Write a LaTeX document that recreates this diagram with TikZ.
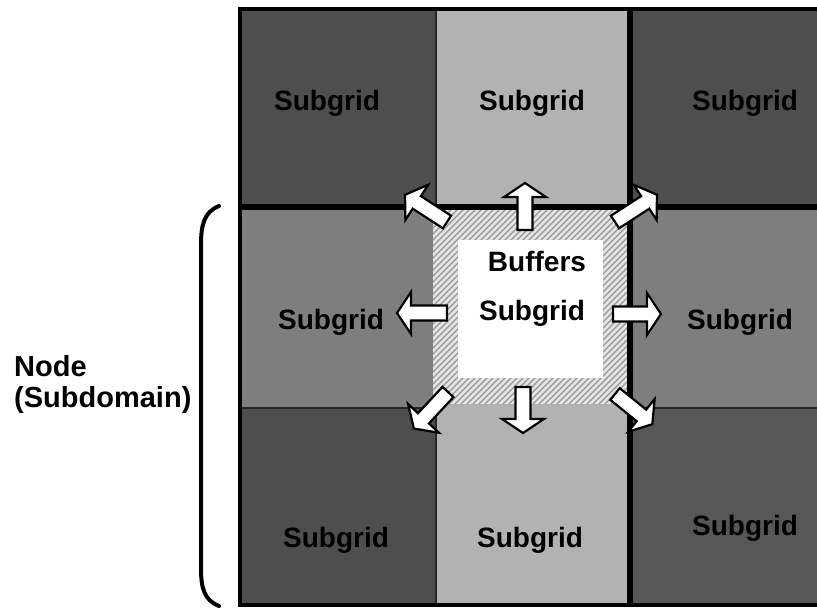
\documentclass[tikz,border=0pt]{standalone}
\usepackage{fontspec}
\setmainfont{Liberation Sans}
\definecolor{darkcell}{RGB}{78,78,78}
\definecolor{midcell}{RGB}{126,126,126}
\definecolor{lightcell}{RGB}{178,178,178}
\definecolor{hatchbg}{RGB}{228,228,228}
\definecolor{hatchfg}{RGB}{150,150,150}
\tikzset{
  lbl/.style={font=\bfseries\fontsize{28}{32}\selectfont, text=black, inner sep=0pt},
  arrowbox/.style={draw=black, fill=white, line width=2.2pt, line join=miter},
  thinline/.style={draw=black!85, line width=1.5pt},
  thickline/.style={draw=black, line width=6.5pt},
  hatchline/.style={draw=hatchfg, line width=1.3pt},
}
\newcommand\blkarrow[4]{%
  \begin{scope}[shift={(#1,#2)},rotate=#3]
    \draw[arrowbox] (0,-7.5) -- ({#4-14},-7.5) -- ({#4-14},-21) -- (#4,0) -- ({#4-14},21) -- ({#4-14},7.5) -- (0,7.5) -- cycle;
  \end{scope}}
\begin{document}
\begin{tikzpicture}[x=1pt,y=-1pt]
\useasboundingbox (0,0) rectangle (817,608);
% cells
\fill[darkcell]  (240,9) rectangle (436,207);
\fill[lightcell] (436,9) rectangle (630,207);
\fill[darkcell]  (630,9) rectangle (822,207);
\fill[midcell]   (240,207) rectangle (436,408);
\fill[lightcell] (436,207) rectangle (630,408);
\fill[midcell]   (630,207) rectangle (822,408);
\fill[darkcell]  (240,408) rectangle (436,605);
\fill[lightcell] (436,408) rectangle (630,605);
\fill[darkcell!95!white]  (630,408) rectangle (822,605);
% hatched buffer region
\fill[hatchbg] (433,210) rectangle (628,404);
\begin{scope}
  \clip (433,210) rectangle (628,404);
  \foreach \i in {-200,-194,...,200} \draw[hatchline] ({433+\i},404) -- ++(200,-200);
\end{scope}
\fill[white] (458,240) rectangle (603,378);
% cell boundaries
\draw[thinline] (436,9) -- (436,207);
\draw[thinline] (436,408) -- (436,605);
\draw[thinline] (240,408) -- (436,408);
\draw[thinline] (630,408) -- (822,408);
\draw[thickline] (240,207) -- (822,207);
\draw[thickline] (630,9) -- (630,605);
% frame
\draw[black, line width=4pt] (822,9) -- (240,9) -- (240,605) -- (822,605);
% labels
\node[lbl] (tl) at (327,103) {Subgrid};
\node[lbl] (tc) at (532,103) {Subgrid};
\node[lbl] (tr) at (745,103) {Subgrid};
\node[lbl] (ml) at (331,322) {Subgrid};
\node[lbl] (mr) at (740,322) {Subgrid};
\node[lbl] (bl) at (336,540) {Subgrid};
\node[lbl] (bc) at (530,540) {Subgrid};
\node[lbl] (br) at (745,528) {Subgrid};
\node[lbl] (buf) at (537,261) {Buffers};
\node[lbl] (cs) at (532,313) {Subgrid};
% arrows
\blkarrow{525}{230}{90}{47}
\blkarrow{523}{387}{-90}{46}
\blkarrow{447}{313}{180}{50}
\blkarrow{613}{314}{0}{48}
\blkarrow{447}{222}{147}{50}
\blkarrow{615}{222}{33}{50}
\blkarrow{448}{392}{227}{50}
\blkarrow{615}{394}{-39}{48}
% brace
\draw[black, line width=4pt, line cap=round] (219,206) .. controls (204,212) and (201,225) .. (201,245) -- (201,568) .. controls (201,588) and (204,600) .. (219,606);
\node[lbl, font=\bfseries\fontsize{29}{33}\selectfont, anchor=west, align=left] (nd) at (14,384) {Node\\[-2pt](Subdomain)};
\end{tikzpicture}
\end{document}
